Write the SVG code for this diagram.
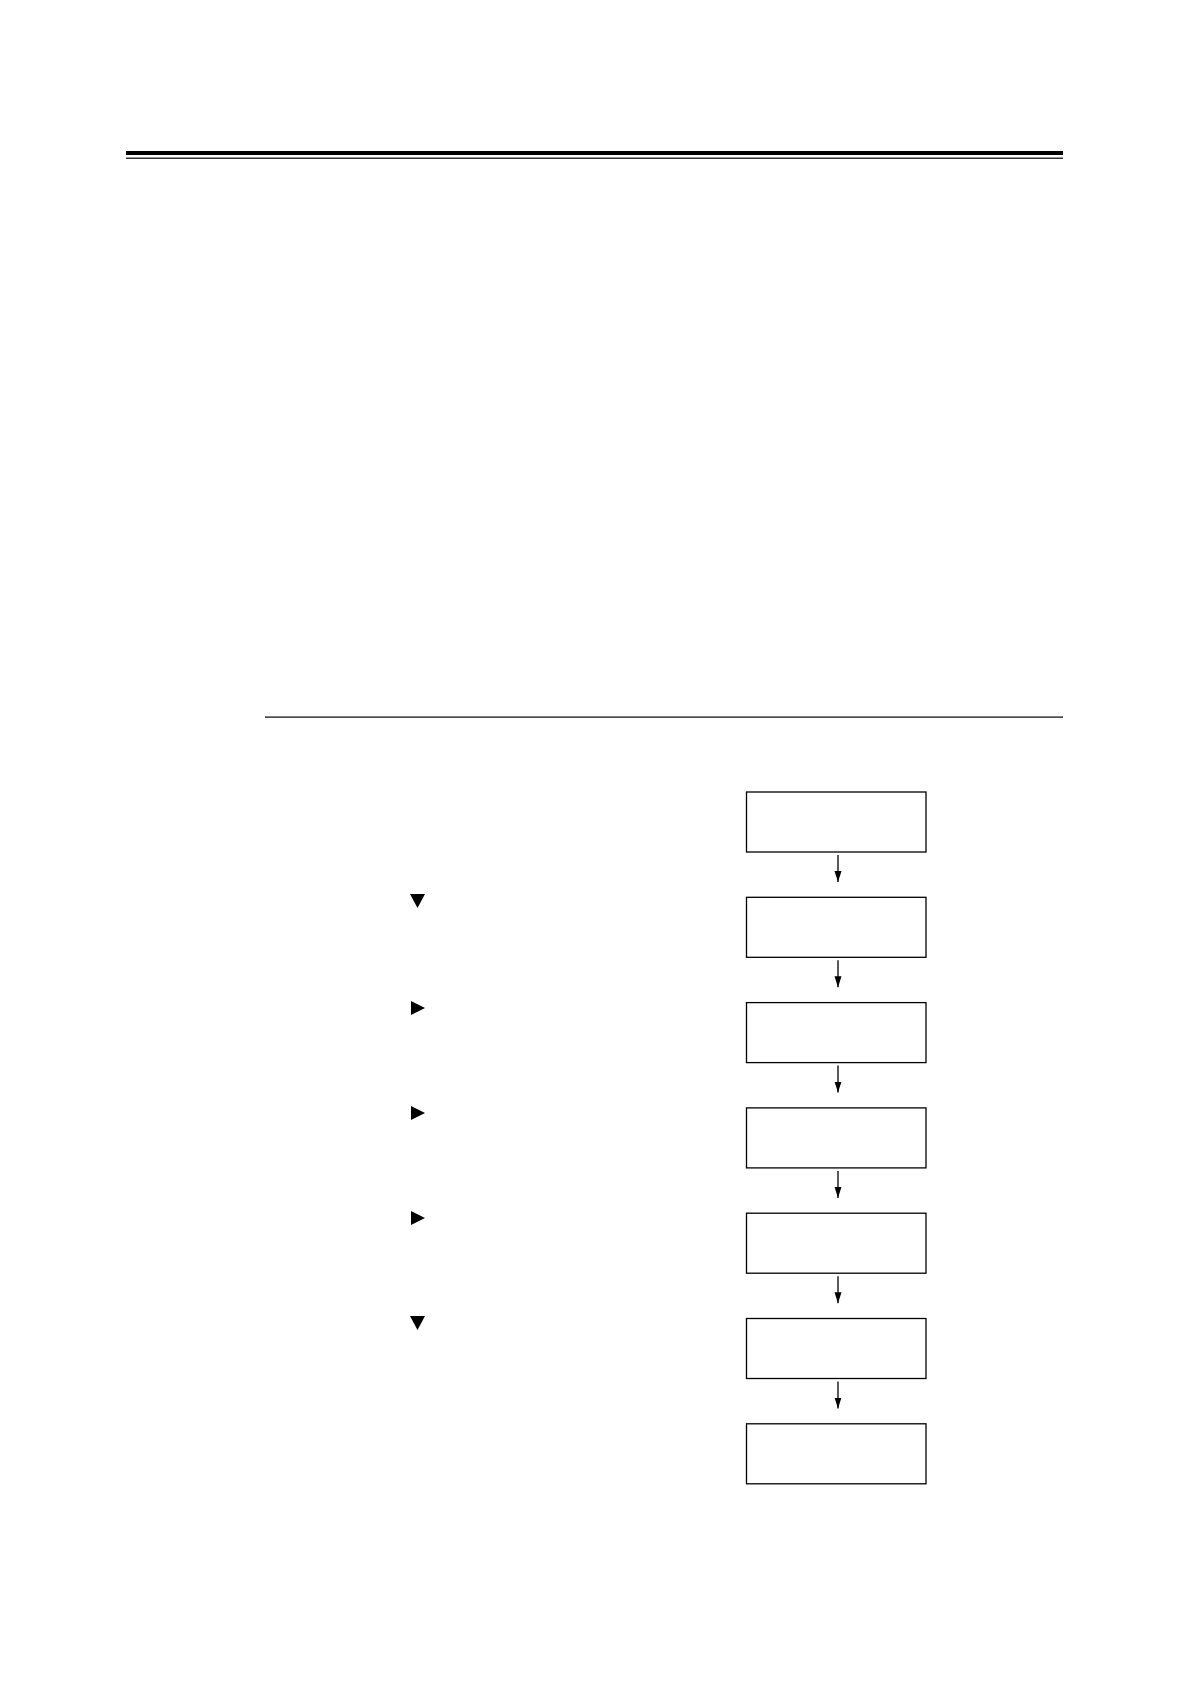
<svg xmlns="http://www.w3.org/2000/svg" width="1190" height="1684" viewBox="0 0 1190 1684">
<defs>
<style>
.box{fill:#fff;stroke:#000;stroke-width:1.3}
.conn{stroke:#000;stroke-width:1.3;fill:none}
.tri{fill:#000}
</style>
<marker id="ahd" viewBox="0 0 12 11" refX="6" refY="11" markerWidth="12" markerHeight="11" markerUnits="userSpaceOnUse" orient="0">
<path d="M2.5,0 L9.5,0 L6,11 Z" fill="#000"/>
</marker>
</defs>
<rect width="1190" height="1684" fill="#fff"/>
<g id="header">
<rect x="126" y="151" width="937" height="4" fill="#000"/>
<rect x="126" y="157.6" width="937" height="1.2" fill="#000"/>
</g>
<rect id="rule" x="265" y="716.5" width="798" height="1.2" fill="#000"/>
<g id="icons">
<polygon class="tri" points="410,894 425,894 417.5,908"/>
<polygon class="tri" points="411,1001 411,1015 425,1008"/>
<polygon class="tri" points="411,1106 411,1120 425,1113"/>
<polygon class="tri" points="411,1211 411,1225 425,1218"/>
<polygon class="tri" points="410,1316 425,1316 417.5,1330"/>
</g>
<g id="node1"><rect class="box" x="746.5" y="792" width="179.5" height="60"/></g>
<g id="node2"><rect class="box" x="746.5" y="897.3" width="179.5" height="60"/></g>
<g id="node3"><rect class="box" x="746.5" y="1002.6" width="179.5" height="60"/></g>
<g id="node4"><rect class="box" x="746.5" y="1107.9" width="179.5" height="60"/></g>
<g id="node5"><rect class="box" x="746.5" y="1213.2" width="179.5" height="60"/></g>
<g id="node6"><rect class="box" x="746.5" y="1318.5" width="179.5" height="60"/></g>
<g id="node7"><rect class="box" x="746.5" y="1423.8" width="179.5" height="60"/></g>
<g id="connectors">
<line class="conn" x1="838" y1="855" x2="838" y2="882" marker-end="url(#ahd)"/>
<line class="conn" x1="838" y1="960.3" x2="838" y2="987.3" marker-end="url(#ahd)"/>
<line class="conn" x1="838" y1="1065.6" x2="838" y2="1092.6" marker-end="url(#ahd)"/>
<line class="conn" x1="838" y1="1170.9" x2="838" y2="1197.9" marker-end="url(#ahd)"/>
<line class="conn" x1="838" y1="1276.2" x2="838" y2="1303.2" marker-end="url(#ahd)"/>
<line class="conn" x1="838" y1="1381.5" x2="838" y2="1408.5" marker-end="url(#ahd)"/>
</g>
</svg>
